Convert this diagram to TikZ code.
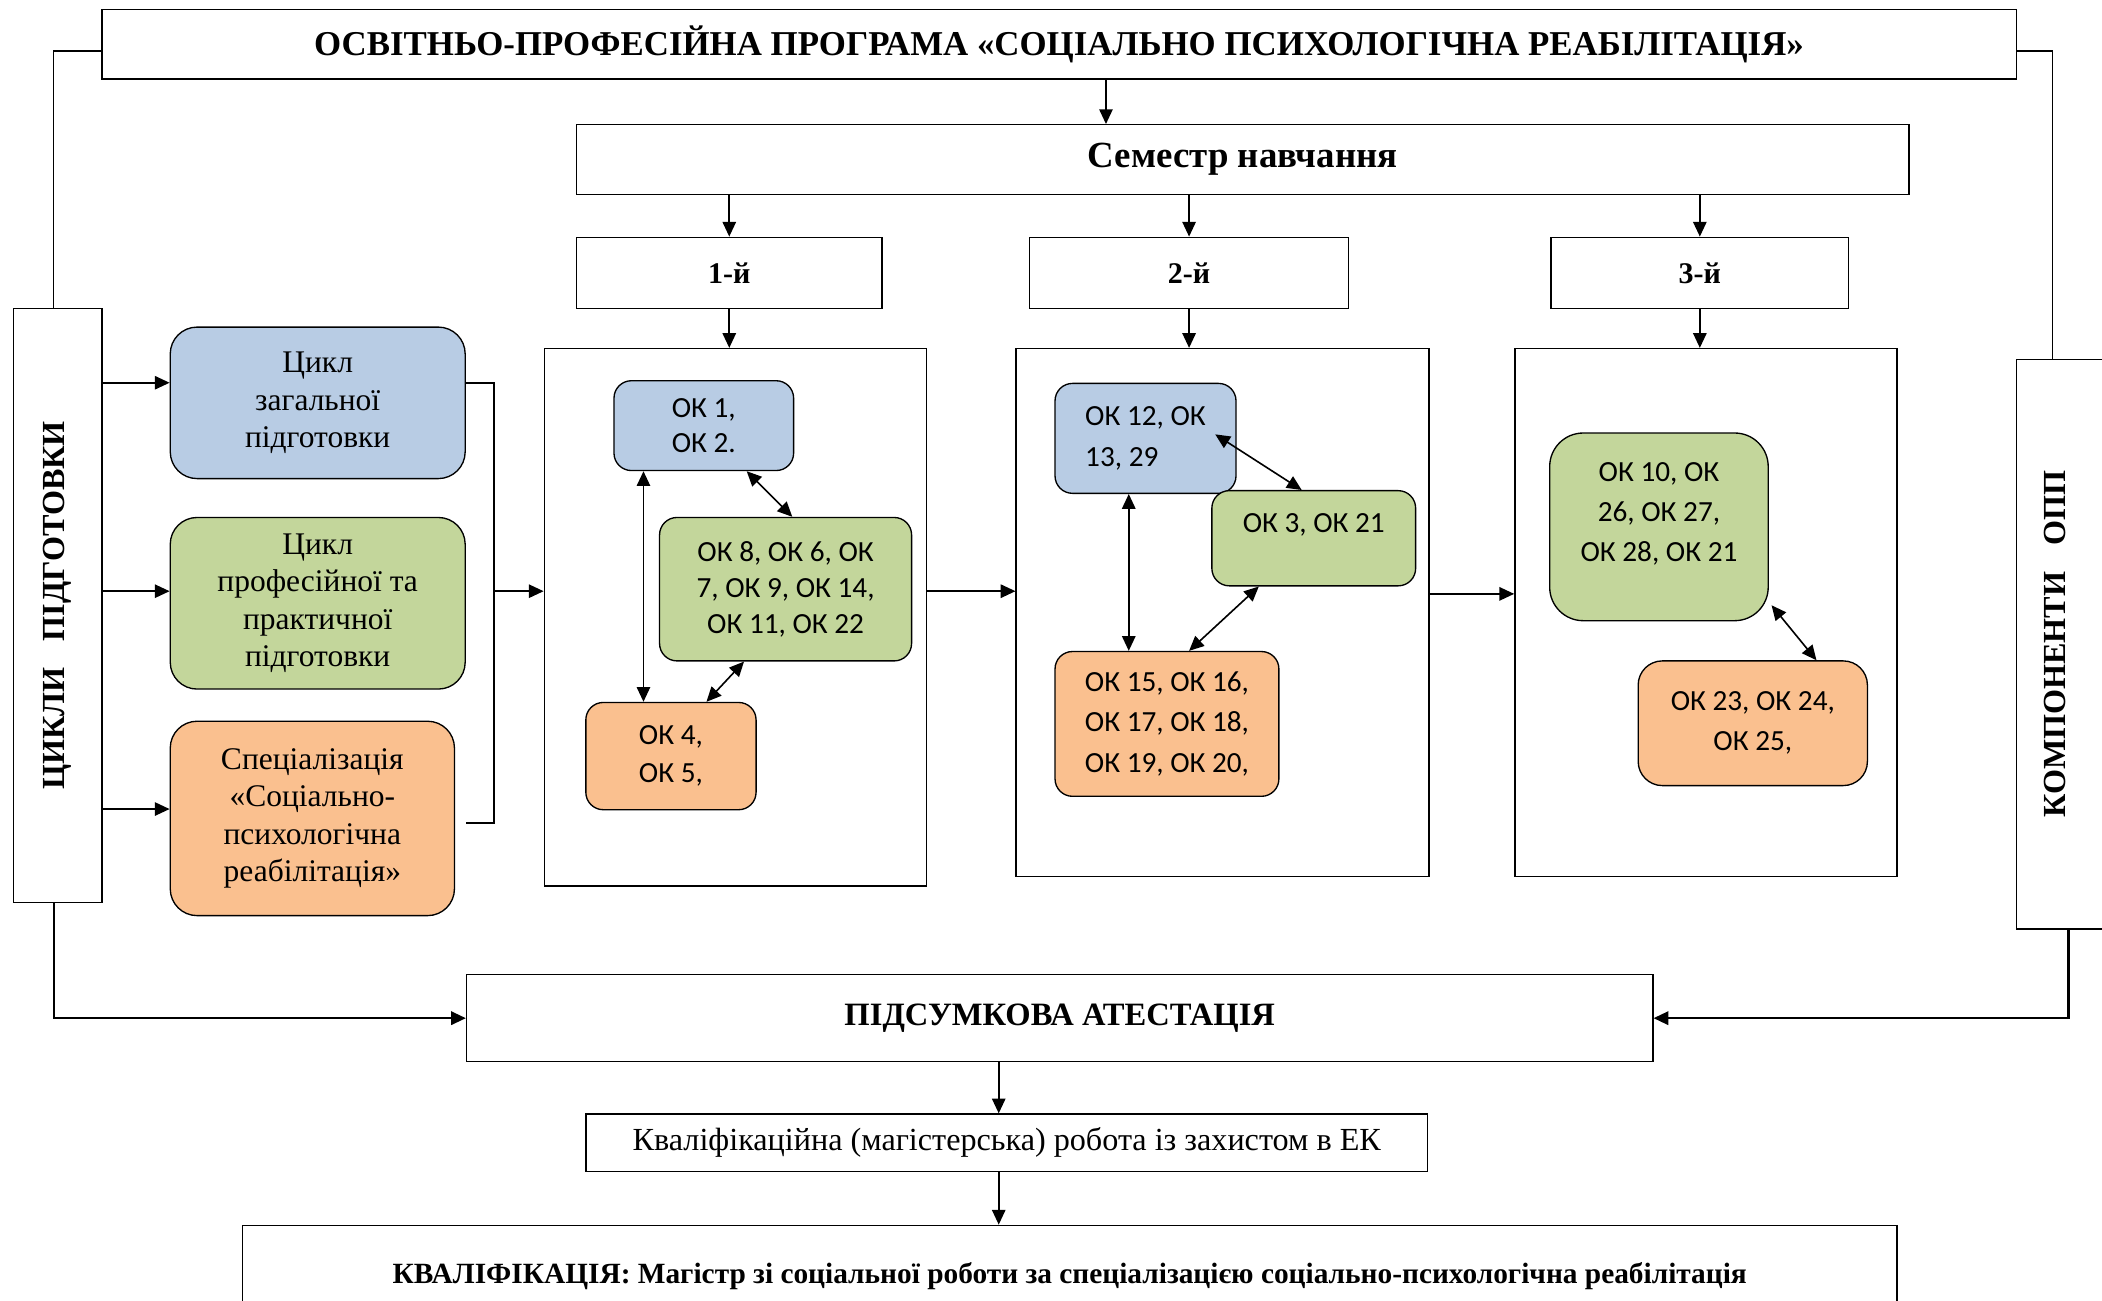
\documentclass[tikz,border=0pt]{standalone}
\usepackage{fontspec}
\usepackage{graphicx}
\setmainfont{Liberation Serif}
\newfontfamily\okfont{Carlito}
\usetikzlibrary{arrows.meta}
\definecolor{cblue}{RGB}{184,204,228}
\definecolor{cgreen}{RGB}{195,214,155}
\definecolor{corange}{RGB}{250,192,143}

\begin{document}
\begin{tikzpicture}[x=1pt, y=-1pt,
		box/.style={draw, line width=1pt, inner sep=0pt, font=\bfseries\fontsize{22.4}{26}\selectfont},
		cycnode/.style={draw, line width=1pt, rounded corners=20pt, inner sep=0pt, align=center, font=\fontsize{23.5}{28}\selectfont},
		oknode/.style={draw, line width=1pt, rounded corners=13pt, inner sep=0pt, align=center, font=\okfont\fontsize{21.8}{30}\selectfont},
		arr/.style={-{Triangle[length=11pt, width=10pt]}, line width=1.2pt},
		dbl/.style={{Triangle[length=11pt, width=10pt]}-{Triangle[length=11pt, width=10pt]}, line width=1.2pt},
		line/.style={line width=1.2pt}]
				\useasboundingbox (0,0) rectangle (1568,970);
				\node[box, font=\bfseries\fontsize{26}{30}\selectfont, minimum width=1428pt, minimum height=52pt] (prog) at (790,33) {ОСВІТНЬО-ПРОФЕСІЙНА ПРОГРАМА «СОЦІАЛЬНО ПСИХОЛОГІЧНА РЕАБІЛІТАЦІЯ»};
				\node[box, font=\bfseries\fontsize{27.5}{30}\selectfont, minimum width=994pt, minimum height=52pt] (sem) at (927,119) {Семестр навчання};
				\node[box, minimum width=228pt, minimum height=53pt] (t1) at (544,203.5) {1-й};
				\node[box, minimum width=238pt, minimum height=53pt] (t2) at (887,203.5) {2-й};
				\node[box, minimum width=222pt, minimum height=53pt] (t3) at (1268,203.5) {3-й};
				\node[box, minimum width=285pt, minimum height=401pt] (b1) at (548.5,460.5) {};
				\node[box, minimum width=308pt, minimum height=394pt] (b2) at (912,457) {};
				\node[box, minimum width=285pt, minimum height=394pt] (b3) at (1272.5,457) {};
				\node[box, font=\bfseries\fontsize{24}{28}\selectfont, minimum width=66pt, minimum height=443pt] (cyc) at (43,451.5) {\rotatebox{90}{ЦИКЛИ\hspace{0.8em}ПІДГОТОВКИ}};
				\node[box, font=\bfseries\fontsize{24}{28}\selectfont, minimum width=78pt, minimum height=425pt] (comp) at (1543,480.5) {\rotatebox{90}{КОМПОНЕНТИ\hspace{0.8em}ОПП}\rule{20pt}{0pt}};
				\node[cycnode, fill=cblue, minimum width=220pt, minimum height=113pt] (cb) at (237,300.5) {Цикл\\загальної\\підготовки};
				\node[cycnode, fill=cgreen, minimum width=220pt, minimum height=128pt] (cg) at (237,450) {Цикл\\професійної та\\практичної\\підготовки};
				\node[cycnode, fill=corange, minimum width=212pt, minimum height=145pt] (co) at (233,610.5) {Спеціалізація\\«Соціально-\\психологічна\\реабілітація»};
				\node[oknode, fill=cblue, font=\okfont\fontsize{21.8}{26}\selectfont, minimum width=134pt, minimum height=67pt] (ok1) at (525,317.5) {ОК 1,\\ОК 2.};
				\node[oknode, fill=cgreen, font=\okfont\fontsize{21.8}{27}\selectfont, minimum width=188pt, minimum height=107pt] (ok8) at (586,439.5) {ОК 8, ОК 6, ОК\\7, ОК 9, ОК 14,\\ОК 11, ОК 22};
				\node[oknode, fill=corange, font=\okfont\fontsize{21.8}{28}\selectfont, minimum width=127pt, minimum height=80pt] (ok4) at (500.5,564) {ОК 4,\\ОК 5,};
				\node[oknode, fill=cblue, align=left, minimum width=135pt, minimum height=82pt] (ok12) at (854.5,327) {ОК 12, ОК\\13, 29};
				\node[oknode, fill=cgreen, text height=15pt, text depth=24pt, minimum width=152pt, minimum height=71pt] (ok3) at (980,401.5) {ОК 3, ОК 21};
				\node[oknode, fill=corange, align=left, minimum width=167pt, minimum height=108pt] (ok15) at (870.5,540) {ОК 15, ОК 16,\\ОК 17, ОК 18,\\ОК 19, ОК 20,};
				\node[oknode, fill=cgreen, rounded corners=25pt, minimum width=163pt, minimum height=140pt] (ok10) at (1237.5,393) {ОК 10, ОК\\26, ОК 27,\\ОК 28, ОК 21\\[-8pt] \mbox{}};
				\node[oknode, fill=corange, rounded corners=18pt, minimum width=171pt, minimum height=93pt] (ok23) at (1307.5,539.5) {ОК 23, ОК 24,\\ОК 25,};
				\node[box, font=\bfseries\fontsize{24.3}{28}\selectfont, minimum width=885pt, minimum height=65pt] (pa) at (790.5,759.5) {ПІДСУМКОВА АТЕСТАЦІЯ};
				\node[box, font=\fontsize{24}{28}\selectfont, minimum width=628pt, minimum height=43pt] (kv) at (751,852.5) {Кваліфікаційна (магістерська) робота із захистом в ЕК};
				\node[box, font=\bfseries\fontsize{21.9}{26}\selectfont, minimum width=1234pt, minimum height=76pt] (kq) at (798,952) {КВАЛІФІКАЦІЯ: Магістр зі соціальної роботи за спеціалізацією соціально-психологічна реабілітація};
				\coordinate (semin) at ([xshift=35pt]prog.south);
				\draw[arr] (semin) -- (semin |- sem.north);
				\foreach \t in {t1,t2,t3} {\draw[arr] (\t.north |- sem.south) -- (\t.north);}
				\foreach \t/\b in {t1/b1,t2/b2,t3/b3} {\draw[arr] (\t.south) -- (\t.south |- \b.north);}
				\draw[line] ([yshift=-5pt]prog.west) -| ([xshift=-3pt]cyc.north);
				\draw[line] ([yshift=-5pt]prog.east) -| ([xshift=-12pt]comp.north);
				\coordinate (cbin) at ([yshift=15pt]cb.west);
				\coordinate (cgin) at ([yshift=9pt]cg.west);
				\coordinate (coin) at ([yshift=7pt]co.west);
				\draw[arr] (cbin -| cyc.east) -- (cbin);
				\draw[arr] (cgin -| cyc.east) -- (cgin);
				\draw[arr] (coin -| cyc.east) -- (coin);
				\draw[line] ([yshift=15pt]cb.east) -- ++(21,0) coordinate (br) |- ([xshift=8pt, yshift=-3.5pt]co.east);
				\coordinate (b1in) at ([yshift=19.5pt]b1.west);
				\draw[arr] (br |- b1in) -- (b1in);
				\coordinate (b1out) at ([yshift=19.5pt]b1.east);
				\draw[arr] (b1out) -- (b1out -| b2.west);
				\coordinate (b2out) at ([yshift=14pt]b2.east);
				\draw[arr] (b2out) -- (b2out -| b3.west);
				\coordinate (v1) at ([xshift=-45pt]ok1.south);
				\draw[dbl] (v1) -- (v1 |- ok4.north);
				\draw[dbl] ([xshift=32pt]ok1.south) -- ([xshift=5pt]ok8.north);
				\draw[dbl] ([xshift=-31pt]ok8.south) -- ([xshift=26.5pt]ok4.north);
				\coordinate (v2) at ([xshift=-12.5pt]ok12.south);
				\draw[dbl] (v2) -- (v2 |- ok15.north);
				\draw[dbl] ([xshift=-16pt, yshift=3pt]ok12.east) -- ([xshift=-9pt]ok3.north);
				\draw[dbl] ([xshift=-41pt]ok3.south) -- ([xshift=16.5pt]ok15.north);
				\draw[dbl] ([xshift=2pt, yshift=12pt]ok10.south east) -- ([xshift=47.5pt]ok23.north);
				\draw[arr, line width=1.6pt] ([xshift=-3pt]cyc.south) |- (pa.west);
				\draw[arr, line width=1.6pt] (comp.south) |- (pa.east);
				\coordinate (kvin) at ([xshift=-6pt]kv.north);
				\draw[arr] (kvin |- pa.south) -- (kvin);
				\draw[arr] (kvin |- kv.south) -- (kvin |- kq.north);
			\end{tikzpicture}
\end{document}
